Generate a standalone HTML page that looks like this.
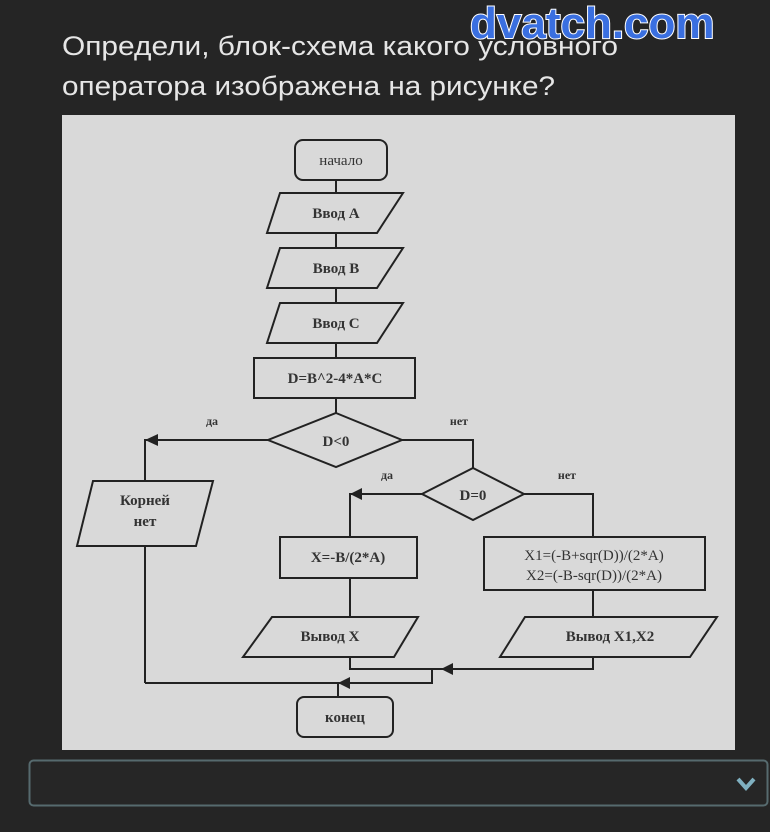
<!DOCTYPE html>
<html><head><meta charset="utf-8"><style>
html,body{margin:0;padding:0;background:#252525;width:770px;height:832px;overflow:hidden}
</style></head><body>
<svg width="770" height="832" viewBox="0 0 770 832" xmlns="http://www.w3.org/2000/svg" style="position:absolute;left:0;top:0">
<text x="62" y="55" font-family="Liberation Sans, DejaVu Sans, sans-serif" font-size="27" fill="#e6e6e6" textLength="556" lengthAdjust="spacingAndGlyphs">Определи, блок-схема какого условного</text>
<text x="62" y="95" font-family="Liberation Sans, DejaVu Sans, sans-serif" font-size="27" fill="#e6e6e6" textLength="493" lengthAdjust="spacingAndGlyphs">оператора изображена на рисунке?</text>
<text x="470" y="38" font-family="Liberation Sans, sans-serif" font-size="44" font-weight="bold" fill="#3a6fe0" stroke="#fff" stroke-width="2" paint-order="stroke">dvatch.com</text>
<rect x="62" y="115" width="673" height="635" fill="#d9d9d9"/>
<g fill="none" stroke="#222" stroke-width="2">
<rect x="295" y="140" width="92" height="40" rx="8"/>
<polygon points="280,193 403,193 377,233 267,233"/>
<polygon points="280,248 403,248 377,288 267,288"/>
<polygon points="280,303 403,303 377,343 267,343"/>
<rect x="254" y="358" width="161" height="40"/>
<line x1="336" y1="180" x2="336" y2="193"/><line x1="336" y1="233" x2="336" y2="248"/>
<line x1="336" y1="288" x2="336" y2="303"/><line x1="336" y1="343" x2="336" y2="358"/>
<line x1="336" y1="398" x2="336" y2="413"/>
<polygon points="336,413 402,440 336,467 268,440"/>
<polyline points="268,440 145,440 145,481"/>
<polyline points="402,440 473,440 473,468"/>
<polygon points="473,468 524,494 473,520 422,494"/>
<polyline points="422,494 350,494 350,537"/>
<polyline points="524,494 593,494 593,537"/>
<polygon points="93,481 213,481 196,546 77,546"/>
<line x1="145" y1="546" x2="145" y2="683"/>
<rect x="280" y="537" width="137" height="41"/>
<rect x="484" y="537" width="221" height="53"/>
<line x1="350" y1="578" x2="350" y2="617"/>
<line x1="593" y1="590" x2="593" y2="617"/>
<polygon points="272,617 418,617 394,657 243,657"/>
<polygon points="525,617 717,617 690,657 500,657"/>
<polyline points="350,657 350,669 593,669 593,657"/>
<polyline points="432,669 432,683 145,683"/>
<line x1="338" y1="683" x2="338" y2="697"/>
<rect x="297" y="697" width="96" height="40" rx="7"/>
</g>
<g fill="#222">
<polygon points="145,440 158,434 158,446"/>
<polygon points="350,494 362,488 362,500"/>
<polygon points="441,669 453,663 453,675"/>
<polygon points="338,683 350,677 350,689"/>
</g>
<g font-family="Liberation Serif, DejaVu Serif, serif" font-size="15" font-weight="bold" fill="#333" text-anchor="middle">
<text x="341" y="165" font-weight="normal">начало</text>
<text x="336" y="218">Ввод A</text>
<text x="336" y="273">Ввод B</text>
<text x="336" y="328">Ввод C</text>
<text x="335" y="383">D=B^2-4*A*C</text>
<text x="336" y="446">D&lt;0</text>
<text x="473" y="500">D=0</text>
<text x="212" y="425" font-size="12">да</text>
<text x="459" y="425" font-size="12">нет</text>
<text x="387" y="479" font-size="12">да</text>
<text x="567" y="479" font-size="12">нет</text>
<text x="145" y="505">Корней</text>
<text x="145" y="526">нет</text>
<text x="348" y="562">X=-B/(2*A)</text>
<text x="594" y="560" font-weight="normal">X1=(-B+sqr(D))/(2*A)</text>
<text x="594" y="580" font-weight="normal">X2=(-B-sqr(D))/(2*A)</text>
<text x="330" y="641">Вывод X</text>
<text x="610" y="641">Вывод X1,X2</text>
<text x="345" y="722">конец</text>
</g>
<rect x="29.5" y="760.5" width="738" height="45" rx="4" fill="#262626" stroke="#566a6e" stroke-width="2"/>
<polyline points="738,779 746,788 754,779" fill="none" stroke="#7fb0c0" stroke-width="4"/>
</svg>
</body></html>
